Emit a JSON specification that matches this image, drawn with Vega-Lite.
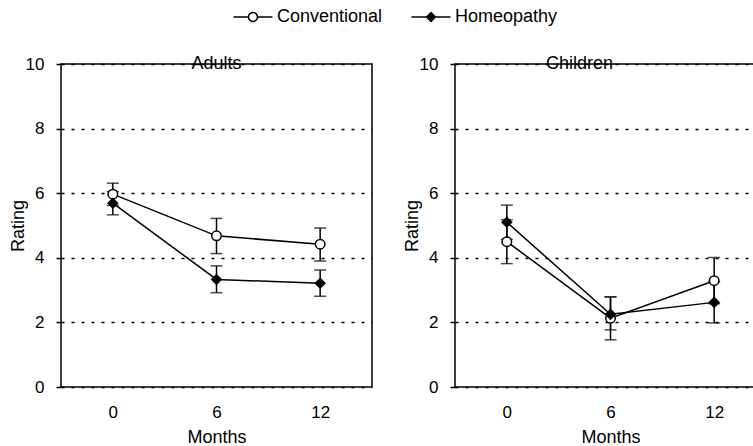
{
  "$schema": "https://vega.github.io/schema/vega-lite/v6.json",
  "padding": {"left": 8, "top": 8, "right": 0, "bottom": 0},
  "background": "white",
  "datasets": {
    "d": [
      {"panel": "Adults", "group": "Conventional", "month": 0, "mean": 5.97, "low": 5.62, "high": 6.31},
      {"panel": "Adults", "group": "Conventional", "month": 6, "mean": 4.68, "low": 4.13, "high": 5.22},
      {"panel": "Adults", "group": "Conventional", "month": 12, "mean": 4.42, "low": 3.9, "high": 4.92},
      {"panel": "Adults", "group": "Homeopathy", "month": 0, "mean": 5.69, "low": 5.33, "high": 6.05},
      {"panel": "Adults", "group": "Homeopathy", "month": 6, "mean": 3.33, "low": 2.92, "high": 3.75},
      {"panel": "Adults", "group": "Homeopathy", "month": 12, "mean": 3.21, "low": 2.81, "high": 3.62},
      {"panel": "Children", "group": "Conventional", "month": 0, "mean": 4.5, "low": 3.82, "high": 5.18},
      {"panel": "Children", "group": "Conventional", "month": 6, "mean": 2.13, "low": 1.46, "high": 2.79},
      {"panel": "Children", "group": "Conventional", "month": 12, "mean": 3.29, "low": 2.58, "high": 4.01},
      {"panel": "Children", "group": "Homeopathy", "month": 0, "mean": 5.1, "low": 4.57, "high": 5.63},
      {"panel": "Children", "group": "Homeopathy", "month": 6, "mean": 2.25, "low": 1.77, "high": 2.79},
      {"panel": "Children", "group": "Homeopathy", "month": 12, "mean": 2.62, "low": 1.98, "high": 3.26}
    ]
  },
  "config": {
    "font": "Liberation Sans",
    "view": {"stroke": "black", "strokeWidth": 1.5},
    "axis": {
      "labelFont": "Liberation Sans", "titleFont": "Liberation Sans",
      "labelColor": "black", "titleColor": "black",
      "labelFontSize": 17, "titleFontSize": 18, "titleFontWeight": "normal",
      "gridColor": "black", "gridDash": [3, 7], "gridWidth": 1.5, "gridOpacity": 1,
      "tickColor": "black", "tickWidth": 1.5, "domain": false
    },
    "title": {"font": "Liberation Sans", "fontSize": 18, "fontWeight": "normal", "color": "black"}
  },
  "spacing": 29,
  "hconcat": [
    {
      "width": 311, "height": 323,
      "title": {"text": "Adults", "baseline": "middle", "offset": -29, "dy": -2, "anchor": "middle"},
      "data": {"name": "d"},
      "encoding": {
        "x": {"field": "month", "type": "quantitative", "scale": {"domain": [-3, 15], "nice": false},
              "axis": {"values": [0, 6, 12], "title": "Months", "ticks": false, "grid": false, "labelPadding": 17, "titlePadding": 8}},
        "y": {"field": "mean", "type": "quantitative", "scale": {"domain": [0, 10], "nice": false},
              "axis": {"values": [0, 2, 4, 6, 8, 10], "title": "Rating", "tickSize": 5, "labelPadding": 12, "titlePadding": -2}}
      },
      "layer": [
        {"transform": [{"filter": "datum.panel === 'Adults'"}, {"aggregate": [{"op": "count", "as": "n"}]}],
         "mark": {"type": "rect", "color": "white"},
         "encoding": {"x": {"datum": 4.37, "type": "quantitative"}, "x2": {"datum": 7.63}, "y": {"datum": 9.8, "type": "quantitative"}, "y2": {"datum": 10.2}}},
        {"transform": [{"filter": "datum.panel === 'Adults'"}],
         "mark": {"type": "rule", "color": "black", "strokeWidth": 1.5}, "encoding": {"y": {"field": "low", "type": "quantitative"}, "y2": {"field": "high"}}},
        {"transform": [{"filter": "datum.panel === 'Adults'"}],
         "mark": {"type": "tick", "orient": "horizontal", "color": "black", "size": 12, "thickness": 1.5}, "encoding": {"y": {"field": "low", "type": "quantitative"}}},
        {"transform": [{"filter": "datum.panel === 'Adults'"}],
         "mark": {"type": "tick", "orient": "horizontal", "color": "black", "size": 12, "thickness": 1.5}, "encoding": {"y": {"field": "high", "type": "quantitative"}}},
        {"transform": [{"filter": "datum.panel === 'Adults'"}],
         "mark": {"type": "line", "color": "black", "strokeWidth": 1.5}, "encoding": {"detail": {"field": "group"}}},
        {"transform": [{"filter": "datum.panel === 'Adults'"}],
         "mark": {"type": "point", "filled": true, "color": "black", "opacity": 0, "strokeWidth": 0, "size": 100},
         "encoding": {
           "shape": {"field": "group", "type": "nominal",
             "scale": {"domain": ["Conventional", "Homeopathy"],
                       "range": ["M-3.9,-0.15H-1V0.15H-3.9ZM1,-0.15H3.9V0.15H1ZM-1.05,0A1.05,1.05,0,1,1,1.05,0A1.05,1.05,0,1,1,-1.05,0ZM-0.75,0A0.75,0.75,0,1,0,0.75,0A0.75,0.75,0,1,0,-0.75,0Z",
                                 "M-3.9,-0.15H3.9V0.15H-3.9ZM-1.1,0L0,-1.1L1.1,0L0,1.1Z"]},
             "legend": {"title": null, "orient": "none", "direction": "horizontal", "legendX": 183, "legendY": -56,
               "symbolSize": 100, "labelFontSize": 18, "labelFont": "Liberation Sans", "labelColor": "black",
               "labelOffset": 15, "columnPadding": 28, "symbolOpacity": 1, "symbolStrokeWidth": 0, "symbolFillColor": "black"}}
         }},
        {"transform": [{"filter": "datum.panel === 'Adults' && datum.group === 'Conventional'"}],
         "mark": {"type": "point", "shape": "circle", "filled": true, "fill": "white", "stroke": "black", "strokeWidth": 1.5, "size": 90, "opacity": 1}},
        {"transform": [{"filter": "datum.panel === 'Adults' && datum.group === 'Homeopathy'"}],
         "mark": {"type": "point", "shape": "diamond", "filled": true, "fill": "black", "stroke": "black", "strokeWidth": 1.5, "size": 90, "opacity": 1}}
      ]
    },
    {
      "width": 311, "height": 323,
      "title": {"text": "Children", "baseline": "middle", "offset": -29, "dy": -2, "anchor": "middle", "dx": -31},
      "data": {"name": "d"},
      "encoding": {
        "x": {"field": "month", "type": "quantitative", "scale": {"domain": [-3, 15], "nice": false},
              "axis": {"values": [0, 6, 12], "title": "Months", "ticks": false, "grid": false, "labelPadding": 17, "titlePadding": 8}},
        "y": {"field": "mean", "type": "quantitative", "scale": {"domain": [0, 10], "nice": false},
              "axis": {"values": [0, 2, 4, 6, 8, 10], "title": "Rating", "tickSize": 5, "labelPadding": 12, "titlePadding": -2}}
      },
      "layer": [
        {"transform": [{"filter": "datum.panel === 'Children'"}, {"aggregate": [{"op": "count", "as": "n"}]}],
         "mark": {"type": "rect", "color": "white"},
         "encoding": {"x": {"datum": 1.95, "type": "quantitative"}, "x2": {"datum": 6.34}, "y": {"datum": 9.8, "type": "quantitative"}, "y2": {"datum": 10.2}}},
        {"transform": [{"filter": "datum.panel === 'Children'"}],
         "mark": {"type": "rule", "color": "black", "strokeWidth": 1.5}, "encoding": {"y": {"field": "low", "type": "quantitative"}, "y2": {"field": "high"}}},
        {"transform": [{"filter": "datum.panel === 'Children'"}],
         "mark": {"type": "tick", "orient": "horizontal", "color": "black", "size": 12, "thickness": 1.5}, "encoding": {"y": {"field": "low", "type": "quantitative"}}},
        {"transform": [{"filter": "datum.panel === 'Children'"}],
         "mark": {"type": "tick", "orient": "horizontal", "color": "black", "size": 12, "thickness": 1.5}, "encoding": {"y": {"field": "high", "type": "quantitative"}}},
        {"transform": [{"filter": "datum.panel === 'Children'"}],
         "mark": {"type": "line", "color": "black", "strokeWidth": 1.5}, "encoding": {"detail": {"field": "group"}}},
        {"transform": [{"filter": "datum.panel === 'Children' && datum.group === 'Conventional'"}],
         "mark": {"type": "point", "shape": "circle", "filled": true, "fill": "white", "stroke": "black", "strokeWidth": 1.5, "size": 90, "opacity": 1}},
        {"transform": [{"filter": "datum.panel === 'Children' && datum.group === 'Homeopathy'"}],
         "mark": {"type": "point", "shape": "diamond", "filled": true, "fill": "black", "stroke": "black", "strokeWidth": 1.5, "size": 90, "opacity": 1}}
      ]
    }
  ]
}
